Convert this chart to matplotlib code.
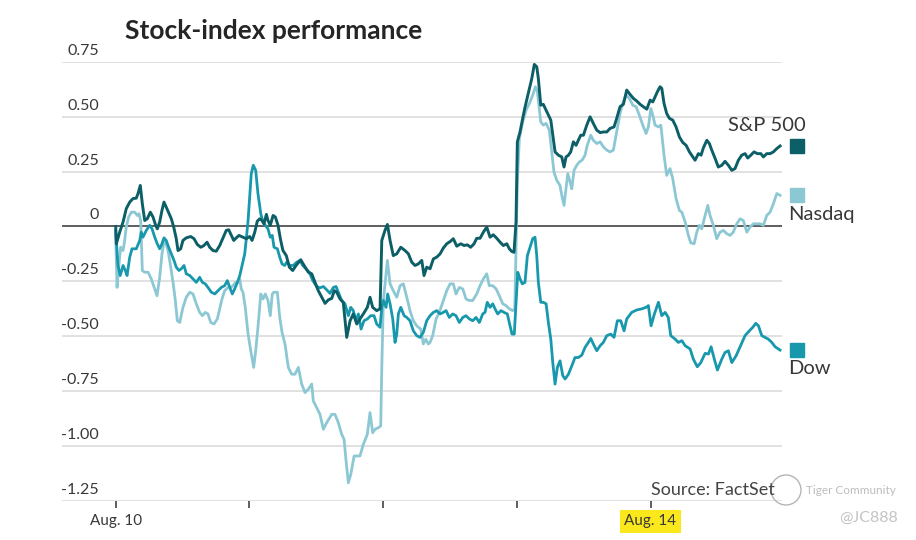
import matplotlib
matplotlib.use("Agg")
import matplotlib.pyplot as plt
from matplotlib.transforms import ScaledTranslation
from matplotlib.patches import Circle

# ---------------- data (x = trading days since Aug. 10 open) ----------------
sp_t = [0.0, 0.005, 0.030, 0.055, 0.079, 0.105, 0.129, 0.154, 0.167, 0.184, 0.199, 0.217, 0.236, 0.259,
        0.279, 0.299, 0.311, 0.329, 0.346, 0.361, 0.378, 0.399, 0.416, 0.434, 0.453, 0.466, 0.486, 0.503,
        0.528, 0.561, 0.586, 0.610, 0.636, 0.660, 0.683, 0.703, 0.728, 0.752, 0.778, 0.803, 0.827, 0.845,
        0.865, 0.883, 0.902, 0.922, 0.952, 0.977, 1.002, 1.020, 1.040, 1.059, 1.077, 1.094, 1.109, 1.127,
        1.139, 1.156, 1.177, 1.194, 1.214, 1.234, 1.251, 1.276, 1.299, 1.324, 1.349, 1.384, 1.409, 1.441,
        1.466, 1.491, 1.515, 1.541, 1.566, 1.590, 1.616, 1.635, 1.653, 1.678, 1.702, 1.728, 1.753, 1.777,
        1.803, 1.827, 1.852, 1.882, 1.902, 1.922, 1.952, 1.977, 1.990, 2.014, 2.032, 2.052, 2.076, 2.102,
        2.132, 2.164, 2.189, 2.214, 2.239, 2.263, 2.289, 2.306, 2.326, 2.351, 2.376, 2.401, 2.426, 2.450,
        2.476, 2.501, 2.525, 2.551, 2.581, 2.605, 2.630, 2.655, 2.680, 2.700, 2.725, 2.750, 2.775, 2.800,
        2.824, 2.850, 2.875, 2.899, 2.925, 2.944, 2.962, 2.979, 2.994, 3.004, 3.024, 3.044, 3.062, 3.086,
        3.112, 3.131, 3.149, 3.161, 3.179, 3.198, 3.219, 3.236, 3.254, 3.269, 3.286, 3.311, 3.336, 3.353,
        3.368, 3.386, 3.403, 3.423, 3.443, 3.460, 3.478, 3.498, 3.523, 3.548, 3.572, 3.598, 3.623, 3.647,
        3.673, 3.697, 3.727, 3.747, 3.772, 3.797, 3.822, 3.847, 3.872, 3.897, 3.922, 3.946, 3.972, 3.997,
        4.017, 4.034, 4.051, 4.071, 4.084, 4.101, 4.121, 4.141, 4.166, 4.191, 4.216, 4.241, 4.266, 4.291,
        4.316, 4.333, 4.358, 4.378, 4.395, 4.421, 4.440, 4.458, 4.483, 4.507, 4.533, 4.557, 4.582, 4.608,
        4.632, 4.657, 4.682, 4.707, 4.727, 4.750, 4.774, 4.799, 4.825, 4.844, 4.869, 4.894, 4.919, 4.944,
        4.969]
sp_v = [0.000, -0.079, -0.026, 0.020, 0.081, 0.111, 0.127, 0.129, 0.150, 0.187, 0.104, 0.027, 0.035, 0.065,
        0.043, 0.005, -0.011, 0.020, 0.073, 0.111, 0.088, 0.058, 0.035, -0.003, -0.056, -0.110, -0.102, -0.064,
        -0.052, -0.046, -0.056, -0.082, -0.095, -0.087, -0.072, -0.095, -0.110, -0.113, -0.087, -0.052, -0.018, -0.015,
        -0.041, -0.064, -0.052, -0.041, -0.049, -0.056, -0.046, -0.064, -0.026, 0.024, 0.035, 0.027, 0.012, 0.055,
        0.027, 0.005, 0.050, 0.043, 0.005, -0.064, -0.110, -0.133, -0.186, -0.201, -0.178, -0.152, -0.178, -0.209,
        -0.216, -0.255, -0.293, -0.323, -0.351, -0.335, -0.328, -0.293, -0.300, -0.331, -0.346, -0.506, -0.430, -0.399,
        -0.445, -0.422, -0.399, -0.369, -0.323, -0.369, -0.384, -0.376, -0.064, -0.018, 0.009, -0.064, -0.133, -0.125,
        -0.095, -0.110, -0.125, -0.163, -0.178, -0.171, -0.155, -0.224, -0.186, -0.193, -0.148, -0.140, -0.125, -0.099,
        -0.079, -0.069, -0.056, -0.090, -0.079, -0.087, -0.084, -0.095, -0.079, -0.054, -0.054, -0.026, -0.003, -0.049,
        -0.038, -0.054, -0.072, -0.087, -0.079, -0.102, -0.114, -0.118, 0.020, 0.386, 0.431, 0.493, 0.546, 0.607,
        0.675, 0.739, 0.728, 0.675, 0.553, 0.557, 0.530, 0.508, 0.485, 0.416, 0.340, 0.325, 0.317, 0.271,
        0.317, 0.325, 0.340, 0.386, 0.370, 0.393, 0.416, 0.416, 0.462, 0.500, 0.470, 0.439, 0.428, 0.431,
        0.431, 0.447, 0.454, 0.493, 0.546, 0.557, 0.622, 0.602, 0.584, 0.572, 0.557, 0.546, 0.535, 0.576,
        0.568, 0.591, 0.614, 0.637, 0.630, 0.561, 0.515, 0.493, 0.485, 0.454, 0.408, 0.383, 0.370, 0.340,
        0.317, 0.302, 0.332, 0.325, 0.358, 0.393, 0.378, 0.348, 0.310, 0.271, 0.279, 0.297, 0.279, 0.256,
        0.264, 0.302, 0.325, 0.332, 0.312, 0.325, 0.340, 0.332, 0.332, 0.317, 0.332, 0.332, 0.340, 0.355,
        0.367]

nq_t = [0.0, 0.010, 0.025, 0.037, 0.055, 0.067, 0.079, 0.097, 0.117, 0.142, 0.162, 0.174, 0.187, 0.199,
        0.217, 0.242, 0.266, 0.292, 0.309, 0.329, 0.346, 0.361, 0.374, 0.391, 0.408, 0.429, 0.446, 0.461,
        0.479, 0.503, 0.528, 0.554, 0.578, 0.603, 0.628, 0.648, 0.670, 0.690, 0.711, 0.735, 0.760, 0.778,
        0.795, 0.815, 0.840, 0.860, 0.877, 0.898, 0.915, 0.928, 0.939, 0.952, 0.969, 0.990, 1.010, 1.032,
        1.047, 1.064, 1.085, 1.102, 1.119, 1.139, 1.156, 1.171, 1.184, 1.209, 1.227, 1.244, 1.266, 1.291,
        1.316, 1.341, 1.366, 1.391, 1.416, 1.441, 1.466, 1.478, 1.503, 1.528, 1.553, 1.578, 1.616, 1.640,
        1.665, 1.690, 1.708, 1.723, 1.740, 1.758, 1.783, 1.827, 1.852, 1.882, 1.902, 1.922, 1.940, 1.964,
        1.982, 1.990, 2.002, 2.032, 2.052, 2.076, 2.102, 2.127, 2.151, 2.177, 2.201, 2.226, 2.251, 2.281,
        2.301, 2.319, 2.338, 2.351, 2.371, 2.396, 2.420, 2.446, 2.476, 2.501, 2.525, 2.545, 2.570, 2.596,
        2.620, 2.645, 2.670, 2.700, 2.725, 2.750, 2.775, 2.794, 2.820, 2.845, 2.869, 2.895, 2.919, 2.944,
        2.970, 2.985, 2.992, 3.004, 3.019, 3.044, 3.069, 3.094, 3.119, 3.139, 3.154, 3.168, 3.179, 3.198,
        3.219, 3.243, 3.261, 3.278, 3.299, 3.323, 3.336, 3.353, 3.368, 3.381, 3.398, 3.411, 3.428, 3.448,
        3.468, 3.488, 3.510, 3.527, 3.553, 3.572, 3.598, 3.623, 3.647, 3.673, 3.697, 3.722, 3.747, 3.772,
        3.792, 3.817, 3.842, 3.867, 3.892, 3.916, 3.942, 3.967, 3.984, 4.002, 4.017, 4.034, 4.059, 4.077,
        4.101, 4.121, 4.146, 4.166, 4.191, 4.216, 4.234, 4.259, 4.283, 4.301, 4.326, 4.346, 4.365, 4.383,
        4.408, 4.428, 4.445, 4.470, 4.495, 4.520, 4.545, 4.570, 4.595, 4.619, 4.645, 4.670, 4.694, 4.720,
        4.744, 4.769, 4.795, 4.819, 4.844, 4.869, 4.894, 4.919, 4.944, 4.969]
nq_v = [-0.040, -0.278, -0.171, -0.095, -0.110, -0.064, -0.003, 0.043, 0.065, 0.065, 0.050, 0.058, 0.027, -0.201,
        -0.209, -0.209, -0.239, -0.285, -0.316, -0.232, -0.125, -0.072, -0.072, -0.110, -0.171, -0.255, -0.338, -0.430,
        -0.438, -0.369, -0.323, -0.300, -0.308, -0.353, -0.392, -0.407, -0.392, -0.399, -0.438, -0.445, -0.422, -0.376,
        -0.331, -0.293, -0.278, -0.278, -0.270, -0.255, -0.255, -0.239, -0.285, -0.300, -0.369, -0.491, -0.567, -0.643,
        -0.567, -0.460, -0.308, -0.331, -0.308, -0.338, -0.407, -0.308, -0.300, -0.300, -0.415, -0.483, -0.536, -0.643,
        -0.674, -0.674, -0.643, -0.719, -0.758, -0.742, -0.719, -0.796, -0.826, -0.857, -0.925, -0.895, -0.857, -0.857,
        -0.895, -0.948, -0.971, -1.070, -1.169, -1.131, -1.047, -1.047, -0.994, -0.948, -0.849, -0.941, -0.925, -0.918,
        -0.910, -0.643, -0.338, -0.155, -0.262, -0.293, -0.323, -0.270, -0.262, -0.323, -0.384, -0.430, -0.453, -0.468,
        -0.536, -0.514, -0.536, -0.529, -0.498, -0.422, -0.392, -0.346, -0.293, -0.262, -0.262, -0.308, -0.278, -0.285,
        -0.331, -0.338, -0.338, -0.308, -0.270, -0.239, -0.216, -0.270, -0.270, -0.285, -0.316, -0.353, -0.361, -0.376,
        -0.384, -0.376, -0.163, 0.203, 0.401, 0.477, 0.530, 0.561, 0.599, 0.637, 0.614, 0.538, 0.477, 0.462,
        0.470, 0.439, 0.340, 0.248, 0.210, 0.187, 0.142, 0.096, 0.172, 0.241, 0.203, 0.172, 0.256, 0.279,
        0.294, 0.302, 0.325, 0.370, 0.416, 0.393, 0.378, 0.386, 0.363, 0.348, 0.340, 0.348, 0.431, 0.515,
        0.561, 0.599, 0.584, 0.553, 0.546, 0.508, 0.462, 0.424, 0.454, 0.538, 0.508, 0.462, 0.454, 0.462,
        0.325, 0.233, 0.264, 0.218, 0.127, 0.073, 0.065, 0.020, -0.041, -0.075, -0.079, -0.026, 0.005, -0.011,
        0.050, 0.096, 0.050, 0.005, -0.056, -0.026, -0.018, -0.033, -0.041, -0.026, 0.012, 0.035, 0.027, -0.026,
        -0.003, 0.012, 0.012, 0.012, 0.005, 0.050, 0.065, 0.104, 0.150, 0.142]

dow_t = [0.0, 0.017, 0.034, 0.055, 0.072, 0.085, 0.105, 0.122, 0.154, 0.180, 0.191, 0.204, 0.229, 0.254,
         0.272, 0.292, 0.311, 0.329, 0.346, 0.361, 0.378, 0.396, 0.416, 0.436, 0.453, 0.473, 0.491, 0.511,
         0.528, 0.554, 0.578, 0.603, 0.628, 0.648, 0.670, 0.690, 0.715, 0.741, 0.765, 0.790, 0.815, 0.835,
         0.853, 0.872, 0.890, 0.910, 0.928, 0.945, 0.965, 0.977, 0.990, 1.002, 1.014, 1.029, 1.047, 1.064,
         1.085, 1.102, 1.119, 1.139, 1.156, 1.171, 1.184, 1.209, 1.227, 1.244, 1.264, 1.279, 1.304, 1.328,
         1.354, 1.379, 1.399, 1.423, 1.448, 1.474, 1.503, 1.528, 1.553, 1.578, 1.603, 1.628, 1.648, 1.665,
         1.690, 1.715, 1.740, 1.758, 1.777, 1.797, 1.815, 1.835, 1.857, 1.882, 1.907, 1.932, 1.952, 1.977,
         1.990, 2.002, 2.022, 2.034, 2.052, 2.072, 2.089, 2.102, 2.114, 2.132, 2.157, 2.177, 2.201, 2.226,
         2.251, 2.276, 2.301, 2.326, 2.351, 2.376, 2.401, 2.426, 2.450, 2.471, 2.495, 2.521, 2.545, 2.570,
         2.596, 2.620, 2.645, 2.670, 2.695, 2.720, 2.745, 2.762, 2.779, 2.800, 2.820, 2.837, 2.857, 2.882,
         2.904, 2.929, 2.949, 2.964, 2.981, 2.994, 3.007, 3.024, 3.041, 3.061, 3.079, 3.099, 3.119, 3.136,
         3.149, 3.161, 3.179, 3.198, 3.219, 3.236, 3.254, 3.269, 3.286, 3.303, 3.323, 3.344, 3.361, 3.386,
         3.411, 3.435, 3.460, 3.486, 3.510, 3.535, 3.553, 3.572, 3.598, 3.623, 3.647, 3.673, 3.703, 3.727,
         3.752, 3.777, 3.802, 3.822, 3.859, 3.897, 3.934, 3.966, 3.984, 4.004, 4.029, 4.059, 4.084, 4.109,
         4.133, 4.151, 4.184, 4.208, 4.234, 4.259, 4.296, 4.320, 4.350, 4.376, 4.408, 4.433, 4.453, 4.477,
         4.500, 4.533, 4.557, 4.582, 4.608, 4.640, 4.670, 4.707, 4.739, 4.765, 4.787, 4.807, 4.832, 4.857,
         4.881, 4.907, 4.932, 4.969]
dow_v = [-0.020, -0.178, -0.224, -0.178, -0.201, -0.224, -0.140, -0.102, -0.102, -0.064, -0.026, -0.049, -0.018, 0.005,
         -0.011, -0.049, -0.079, -0.102, -0.079, -0.052, -0.064, -0.095, -0.125, -0.155, -0.186, -0.201, -0.193, -0.178,
         -0.216, -0.224, -0.239, -0.255, -0.232, -0.255, -0.262, -0.278, -0.300, -0.308, -0.293, -0.278, -0.270, -0.247,
         -0.278, -0.308, -0.285, -0.255, -0.224, -0.178, -0.125, -0.056, 0.027, 0.134, 0.241, 0.279, 0.256, 0.150,
         0.058, 0.020, 0.005, -0.011, -0.049, -0.041, -0.095, -0.102, -0.140, -0.171, -0.178, -0.163, -0.178, -0.178,
         -0.163, -0.155, -0.178, -0.193, -0.209, -0.247, -0.274, -0.280, -0.274, -0.289, -0.305, -0.278, -0.274, -0.300,
         -0.338, -0.353, -0.407, -0.369, -0.384, -0.430, -0.399, -0.468, -0.430, -0.422, -0.407, -0.407, -0.445, -0.460,
         -0.369, -0.338, -0.369, -0.308, -0.353, -0.422, -0.529, -0.491, -0.399, -0.369, -0.407, -0.415, -0.430, -0.476,
         -0.498, -0.506, -0.483, -0.430, -0.407, -0.392, -0.384, -0.399, -0.392, -0.384, -0.415, -0.399, -0.407, -0.438,
         -0.415, -0.407, -0.422, -0.430, -0.415, -0.438, -0.399, -0.392, -0.346, -0.369, -0.353, -0.376, -0.399, -0.384,
         -0.392, -0.399, -0.453, -0.491, -0.491, -0.346, -0.209, -0.239, -0.262, -0.255, -0.133, -0.095, -0.056, -0.049,
         -0.133, -0.255, -0.346, -0.346, -0.353, -0.438, -0.514, -0.621, -0.719, -0.643, -0.613, -0.681, -0.696, -0.674,
         -0.636, -0.598, -0.598, -0.587, -0.552, -0.529, -0.511, -0.536, -0.567, -0.544, -0.529, -0.498, -0.491, -0.506,
         -0.430, -0.430, -0.476, -0.422, -0.392, -0.381, -0.376, -0.369, -0.361, -0.453, -0.399, -0.346, -0.407, -0.392,
         -0.415, -0.498, -0.514, -0.529, -0.521, -0.544, -0.559, -0.605, -0.640, -0.621, -0.579, -0.582, -0.549, -0.605,
         -0.655, -0.605, -0.575, -0.567, -0.621, -0.590, -0.549, -0.498, -0.476, -0.460, -0.442, -0.453, -0.498, -0.506,
         -0.514, -0.529, -0.549, -0.564]

y_ticks = [0.75, 0.50, 0.25, 0.0, -0.25, -0.50, -0.75, -1.00, -1.25]
y_tick_labels = ["0.75", "0.50", "0.25", "0", "-0.25", "-0.50", "-0.75", "-1.00", "-1.25"]
x_ticks = [0, 1, 2, 3, 4]
x_tick_labels = ["Aug. 10", "", "", "", "Aug. 14"]
series_names = ["S&P 500", "Nasdaq", "Dow"]

# ---------------- styling ----------------
FONT = ["Lato", "DejaVu Sans"]
plt.rcParams["font.family"] = FONT
C_SP = "#0c5e67"
C_NQ = "#8cc8d4"
C_DOW = "#1798ad"
TXT = "#383838"

fig = plt.figure(figsize=(9.16, 5.40), dpi=100, facecolor="white")
ax = fig.add_axes([62 / 916, 1 - 500.5 / 540, 719.7 / 916, 438.5 / 540])
ax.set_xlim(-0.4016, 4.981)
ax.set_ylim(-1.25, 0.75)

for s in ax.spines.values():
    s.set_visible(False)

# grid
ax.set_yticks(y_ticks, y_tick_labels)
ax.yaxis.grid(True, color="#dedede", linewidth=1.3)
ax.set_axisbelow(True)
ax.axhline(0, color="#3c3c3c", linewidth=1.1, zorder=2)

ax.tick_params(axis="y", length=0, pad=0, labelsize=11.5, labelcolor=TXT)
off = ScaledTranslation(37 / 100, 11 / 100, fig.dpi_scale_trans)
for lbl in ax.get_yticklabels():
    lbl.set_transform(lbl.get_transform() + off)
    lbl.set_verticalalignment("center")

ax.set_xticks(x_ticks, x_tick_labels)
ax.tick_params(axis="x", length=5, width=1.2, color="#444444", direction="out",
               pad=5, labelsize=11, labelcolor=TXT)
xl = ax.get_xticklabels()
xl[4].set_bbox(dict(facecolor="#fbe81c", edgecolor="none", boxstyle="square,pad=0.3"))

# lines
ax.plot(nq_t, nq_v, color=C_NQ, linewidth=2.0, clip_on=False, zorder=3, solid_joinstyle="round")
ax.plot(dow_t, dow_v, color=C_DOW, linewidth=2.0, clip_on=False, zorder=4, solid_joinstyle="round")
ax.plot(sp_t, sp_v, color=C_SP, linewidth=2.1, clip_on=False, zorder=5, solid_joinstyle="round")

# end labels with squares
x_sq = 5.092
for name, vals, col, up in [(series_names[0], sp_v, C_SP, True),
                            (series_names[1], nq_v, C_NQ, False),
                            (series_names[2], dow_v, C_DOW, False)]:
    ax.plot([x_sq], [vals[-1]], marker="s", markersize=9.4, color=col, linestyle="none", clip_on=False)
    if up:
        ax.annotate(name, xy=(x_sq, vals[-1]), xytext=(6.5, 14.5), textcoords="offset points",
                    ha="right", va="center", fontsize=14.5, color=TXT, annotation_clip=False)
    else:
        ax.annotate(name, xy=(x_sq, vals[-1]), xytext=(-6.2, -13.5), textcoords="offset points",
                    ha="left", va="center", fontsize=14.5, color=TXT, annotation_clip=False)

# title and source
fig.text(125 / 916, 1 - 31 / 540, "Stock-index performance", fontsize=19, fontweight="bold",
         color="#252525", ha="left", va="center")
fig.text(775 / 916, 1 - 490 / 540, "Source: FactSet", fontsize=13, color="#444444",
         ha="right", va="center")

# watermark
fig.patches.append(Circle((7.86, 0.50), 0.15, transform=fig.dpi_scale_trans,
                          fill=False, edgecolor="#b5b5b5", linewidth=1.0))
fig.text(806 / 916, 1 - 490 / 540, "Tiger Community", fontsize=8.5, color="#bdbdbd",
         ha="left", va="center")
fig.text(898 / 916, 1 - 518 / 540, "@JC888", fontsize=11.5, color="#c4c4c4",
         ha="right", va="center")

fig.savefig("out.png", dpi=100, facecolor="white")
